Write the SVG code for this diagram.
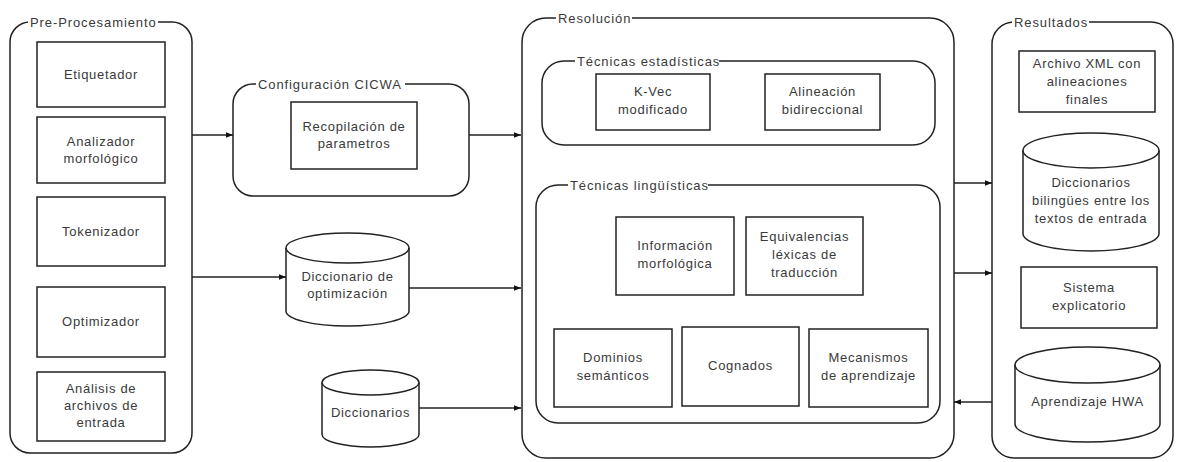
<svg xmlns="http://www.w3.org/2000/svg" width="1180" height="462" viewBox="0 0 1180 462">
<defs>
<style>
.frame{fill:none;stroke:#222;stroke-width:1.5}
.box{fill:#fff;stroke:#222;stroke-width:1.5}
.t{font-family:"Liberation Sans",Arial,sans-serif;font-size:13px;fill:#3a3a3a;text-anchor:middle;letter-spacing:0.7px}
.tl{font-family:"Liberation Sans",Arial,sans-serif;font-size:13px;fill:#3a3a3a;text-anchor:start;letter-spacing:0.9px}
.mask{fill:#fff}
.c{fill:none;stroke:#222;stroke-width:1.5}
</style>
<marker id="ah" viewBox="0 0 10 10" refX="10" refY="5" markerWidth="7" markerHeight="7" orient="auto" markerUnits="userSpaceOnUse">
<path d="M0,1 L10,5 L0,9 Z" fill="#111"/>
</marker>
</defs>
<rect width="1180" height="462" fill="#fff"/>

<g id="preprocesamiento">
<rect class="frame" x="10" y="22" width="182" height="431" rx="20"/>
<rect class="mask" x="28" y="14" width="130" height="16"/>
<text class="tl" x="30" y="27">Pre-Procesamiento</text>
</g>
<g id="etiquetador"><rect class="box" x="37" y="42" width="128" height="65"/><text class="t" x="101" y="79">Etiquetador</text></g>
<g id="analizador"><rect class="box" x="37" y="117" width="128" height="66"/><text class="t" x="101" y="146">Analizador</text><text class="t" x="101" y="163">morfológico</text></g>
<g id="tokenizador"><rect class="box" x="37" y="197" width="128" height="69"/><text class="t" x="101" y="236">Tokenizador</text></g>
<g id="optimizador"><rect class="box" x="37" y="287" width="128" height="70"/><text class="t" x="101" y="326">Optimizador</text></g>
<g id="analisis"><rect class="box" x="37" y="372" width="128" height="69"/><text class="t" x="101" y="393">Análisis de</text><text class="t" x="101" y="410">archivos de</text><text class="t" x="101" y="427">entrada</text></g>

<g id="configuracion">
<rect class="frame" x="233" y="84" width="236" height="112" rx="20"/>
<rect class="mask" x="256" y="76" width="149" height="16"/>
<text class="tl" x="258" y="89">Configuración CICWA</text>
</g>
<g id="recopilacion"><rect class="box" x="291" y="102" width="126" height="67"/><text class="t" x="354" y="131">Recopilación de</text><text class="t" x="354" y="148">parametros</text></g>

<g id="dic-optimizacion">
<path class="box" d="M286,248 L286,311 A61.5,15 0 0 0 409,311 L409,248 A61.5,15 0 0 0 286,248 Z"/>
<path class="c" d="M286,248 A61.5,15 0 0 0 409,248"/>
<text class="t" x="347.5" y="281">Diccionario de</text><text class="t" x="347.5" y="298">optimización</text>
</g>
<g id="diccionarios">
<path class="box" d="M322,382.5 L322,434.5 A48.5,12.5 0 0 0 419,434.5 L419,382.5 A48.5,12.5 0 0 0 322,382.5 Z"/>
<path class="c" d="M322,382.5 A48.5,12.5 0 0 0 419,382.5"/>
<text class="t" x="370.5" y="417">Diccionarios</text>
</g>

<g id="resolucion">
<rect class="frame" x="522" y="18" width="432" height="440" rx="24"/>
<rect class="mask" x="556" y="10" width="76" height="16"/>
<text class="tl" x="558" y="23">Resolución</text>
</g>
<g id="estadisticas">
<rect class="frame" x="542" y="61" width="393" height="84" rx="22"/>
<rect class="mask" x="575" y="53" width="144" height="16"/>
<text class="tl" x="577" y="66">Técnicas estadísticas</text>
</g>
<g id="kvec"><rect class="box" x="596" y="74" width="114" height="56"/><text class="t" x="653" y="96">K-Vec</text><text class="t" x="653" y="114">modificado</text></g>
<g id="alineacion"><rect class="box" x="765" y="74" width="115" height="56"/><text class="t" x="822.5" y="96">Alineación</text><text class="t" x="822.5" y="114">bidireccional</text></g>

<g id="linguisticas">
<rect class="frame" x="536" y="185" width="404" height="238" rx="22"/>
<rect class="mask" x="568" y="177" width="140" height="16"/>
<text class="tl" x="570" y="190">Técnicas lingüísticas</text>
</g>
<g id="informacion"><rect class="box" x="616" y="217" width="118" height="78"/><text class="t" x="675" y="250">Información</text><text class="t" x="675" y="268">morfológica</text></g>
<g id="equivalencias"><rect class="box" x="746" y="217" width="117" height="78"/><text class="t" x="804.5" y="241">Equivalencias</text><text class="t" x="804.5" y="259">léxicas de</text><text class="t" x="804.5" y="277">traducción</text></g>
<g id="dominios"><rect class="box" x="554" y="329" width="118" height="78"/><text class="t" x="613" y="362">Dominios</text><text class="t" x="613" y="380">semánticos</text></g>
<g id="cognados"><rect class="box" x="682" y="327" width="117" height="79"/><text class="t" x="740.5" y="370">Cognados</text></g>
<g id="mecanismos"><rect class="box" x="809" y="329" width="119" height="78"/><text class="t" x="868.5" y="362">Mecanismos</text><text class="t" x="868.5" y="380">de aprendizaje</text></g>

<g id="resultados">
<rect class="frame" x="992" y="22" width="181" height="436" rx="22"/>
<rect class="mask" x="1012" y="14" width="77" height="16"/>
<text class="tl" x="1014" y="27">Resultados</text>
</g>
<g id="archivo-xml"><rect class="box" x="1019" y="51" width="136" height="61"/><text class="t" x="1087" y="68">Archivo XML con</text><text class="t" x="1087" y="86">alineaciones</text><text class="t" x="1087" y="104">finales</text></g>
<g id="dic-bilingues">
<path class="box" d="M1023,150.5 L1023,233.5 A68,17.5 0 0 0 1159,233.5 L1159,150.5 A68,17.5 0 0 0 1023,150.5 Z"/>
<path class="c" d="M1023,150.5 A68,17.5 0 0 0 1159,150.5"/>
<text class="t" x="1091" y="187">Diccionarios</text><text class="t" x="1091" y="205">bilingües entre los</text><text class="t" x="1091" y="223">textos  de entrada</text>
</g>
<g id="sistema"><rect class="box" x="1021" y="267" width="136" height="61"/><text class="t" x="1089" y="292">Sistema</text><text class="t" x="1089" y="310">explicatorio</text></g>
<g id="aprendizaje">
<path class="box" d="M1015,365 L1015,424 A72.5,18 0 0 0 1160,424 L1160,365 A72.5,18 0 0 0 1015,365 Z"/>
<path class="c" d="M1015,365 A72.5,18 0 0 0 1160,365"/>
<text class="t" x="1087.5" y="406">Aprendizaje HWA</text>
</g>

<g id="connectors" fill="none" stroke="#222" stroke-width="1.5">
<line x1="192" y1="135" x2="233" y2="135" marker-end="url(#ah)"/>
<line x1="469" y1="135" x2="521" y2="135" marker-end="url(#ah)"/>
<line x1="192" y1="277" x2="286" y2="277" marker-end="url(#ah)"/>
<line x1="409" y1="288" x2="521" y2="288" marker-end="url(#ah)"/>
<line x1="419" y1="408" x2="521" y2="408" marker-end="url(#ah)"/>
<line x1="954" y1="183" x2="992" y2="183" marker-end="url(#ah)"/>
<line x1="954" y1="273" x2="992" y2="273" marker-end="url(#ah)"/>
<line x1="992" y1="402" x2="954" y2="402" marker-end="url(#ah)"/>
</g>
</svg>
